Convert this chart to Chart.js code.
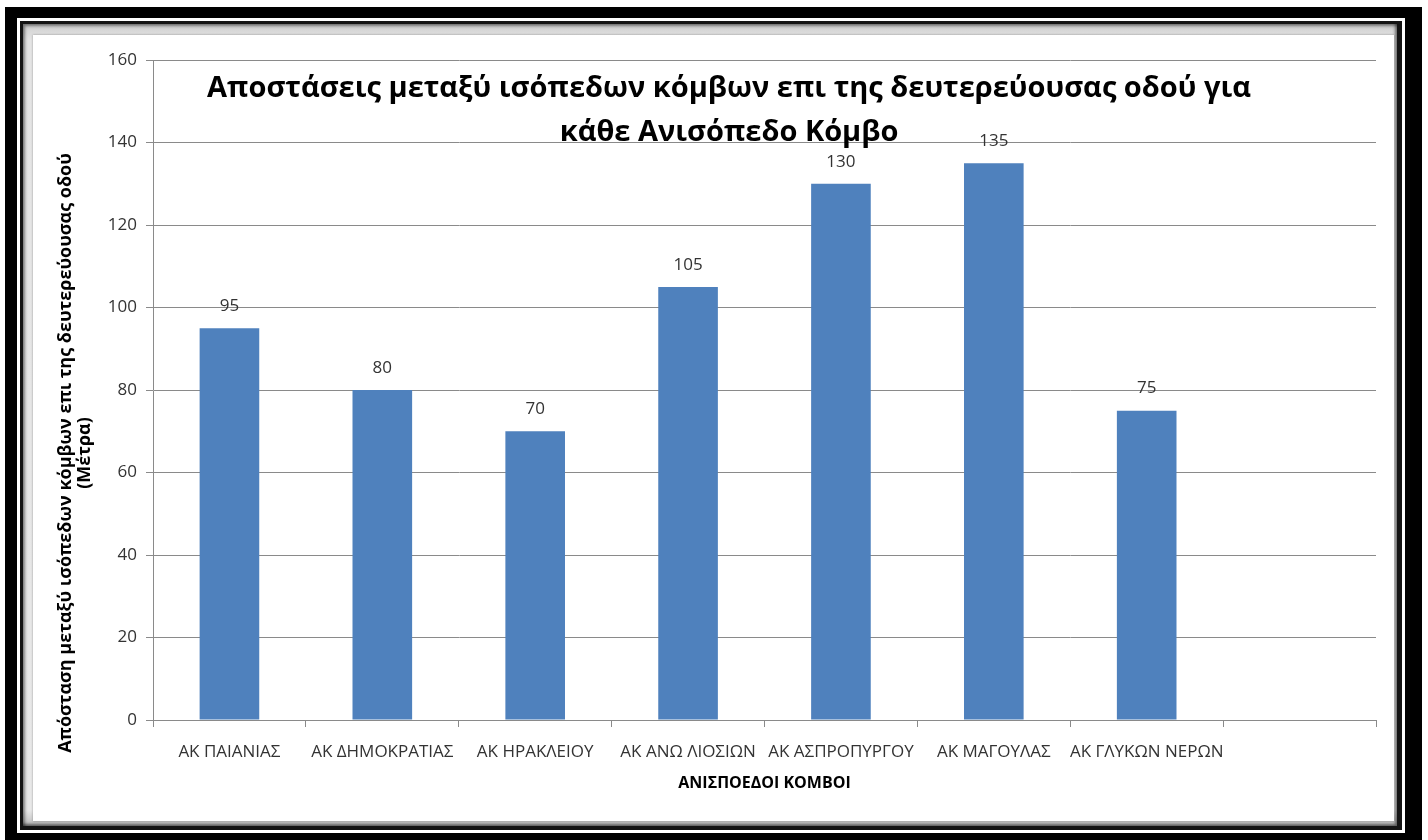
<!DOCTYPE html>
<html>
<head>
<meta charset="utf-8">
<script src="https://cdn.jsdelivr.net/npm/chart.js@4.4.1/dist/chart.umd.min.js"></script>
<style>
  html, body { margin: 0; padding: 0; background: #fff; overflow: hidden; width: 1428px; height: 840px; }
  .box { position: absolute; box-sizing: border-box; }
  #frameOuter { left: 5px; top: 7px; width: 1417px; height: 833px; background: #000; }
  #frameGap { left: 17px; top: 18px; width: 1388px; height: 815px; background: #fff; }
  #frameLine { left: 20px; top: 21px; width: 1382px; height: 809px; background: #141414; }
  #frameSheet { left: 23px; top: 24px; width: 1374px; height: 802px;
    background: linear-gradient(#cfcfcf, #e4e4e4 2%, #e8e8e8 98%, #bdbdbd);
    box-shadow: inset 2px 2px 3px rgba(0,0,0,0.45), inset -2px -2px 3px rgba(0,0,0,0.5); }
  #sheet { left: 33px; top: 35px; width: 1361px; height: 786px; background: #fff;
    box-shadow: 0 0 2px rgba(0,0,0,0.35); }
  #chart { position: absolute; left: 0; top: 0; }
</style>
</head>
<body>
<div class="box" id="frameOuter"></div>
<div class="box" id="frameGap"></div>
<div class="box" id="frameLine"></div>
<div class="box" id="frameSheet"></div>
<div class="box" id="sheet"></div>
<canvas id="chart" width="1428" height="840"></canvas>
<script>
// Interchange names and the spacing (metres) between at-grade junctions on the secondary road
const categories = ['ΑΚ ΠΑΙΑΝΙΑΣ', 'ΑΚ ΔΗΜΟΚΡΑΤΙΑΣ', 'ΑΚ ΗΡΑΚΛΕΙΟΥ', 'ΑΚ ΑΝΩ ΛΙΟΣΙΩΝ',
                    'ΑΚ ΑΣΠΡΟΠΥΡΓΟΥ', 'ΑΚ ΜΑΓΟΥΛΑΣ', 'ΑΚ ΓΛΥΚΩΝ ΝΕΡΩΝ', ''];
const distances = [95, 80, 70, 105, 130, 135, 75, null];

const titleLines = ['Αποστάσεις μεταξύ ισόπεδων κόμβων επι της δευτερεύουσας οδού για',
                    'κάθε Ανισόπεδο Κόμβο'];
const yTitleLines = ['Απόσταση μεταξύ ισόπεδων κόμβων επι της δευτερεύουσας οδού', '(Μέτρα)'];
const xTitle = 'ΑΝΙΣΠΟΕΔΟΙ ΚΟΜΒΟΙ';

const yMin = 0, yMax = 160, yStep = 20;

const FONT = "'Open Sans', 'Noto Sans', 'DejaVu Sans', sans-serif";
const GRID = '#8a8a8a';
const TEXT = '#333333';

// Value labels above each bar
const valueLabels = {
  id: 'valueLabels',
  afterDatasetsDraw(chart) {
    const ctx = chart.ctx;
    const meta = chart.getDatasetMeta(0);
    ctx.save();
    ctx.font = "17px " + FONT;
    ctx.fillStyle = TEXT;
    ctx.textAlign = 'center';
    ctx.textBaseline = 'middle';
    meta.data.forEach((bar, i) => {
      const v = chart.data.datasets[0].data[i];
      if (v === null || v === undefined) return;
      ctx.fillText(String(v), bar.x, bar.y - 22);
    });
    ctx.restore();
  }
};

// Chart heading inside the plot and the rotated value-axis caption
const headings = {
  id: 'headings',
  afterDraw(chart) {
    const ctx = chart.ctx;
    ctx.save();
    ctx.fillStyle = '#000';
    ctx.textAlign = 'center';
    ctx.textBaseline = 'alphabetic';
    ctx.font = "bold 29px " + FONT;
    ctx.fillText(titleLines[0], 729, 97);
    ctx.fillText(titleLines[1], 729, 141);

    ctx.font = "bold 18px " + FONT;
    ctx.textBaseline = 'middle';
    ctx.translate(66, 453);
    ctx.rotate(-Math.PI / 2);
    ctx.fillText(yTitleLines[0], 0, 0);
    ctx.fillText(yTitleLines[1], 0, 19);
    ctx.restore();
  }
};

new Chart(document.getElementById('chart'), {
  type: 'bar',
  data: {
    labels: categories,
    datasets: [{
      data: distances,
      backgroundColor: '#4f81bd',
      borderWidth: 0,
      barPercentage: 0.39,
      categoryPercentage: 1.0
    }]
  },
  options: {
    responsive: false,
    animation: false,
    events: [],
    layout: { padding: { top: 60, right: 52, left: 0, bottom: 0 } },
    plugins: { legend: { display: false }, tooltip: { enabled: false }, title: { display: false } },
    scales: {
      x: {
        offset: true,
        grid: { display: true, drawOnChartArea: false, drawTicks: true, tickLength: 7, color: GRID, offset: true },
        border: { display: true, color: GRID, width: 1 },
        ticks: { color: TEXT, font: { family: FONT, size: 17 }, padding: 15, maxRotation: 0, minRotation: 0, autoSkip: false },
        title: { display: true, text: xTitle, color: '#000', font: { family: FONT, size: 16, weight: 'bold' }, padding: { top: 0, bottom: 47 } },
        afterFit(scale) { scale.height = 120; }
      },
      y: {
        min: yMin, max: yMax,
        grid: { color: GRID, lineWidth: 1, drawTicks: true, tickLength: 7 },
        border: { display: true, color: GRID, width: 1 },
        ticks: { stepSize: yStep, color: TEXT, font: { family: FONT, size: 17 }, padding: 9 },
        afterFit(scale) { scale.width = 153; }
      }
    }
  },
  plugins: [valueLabels, headings]
});
</script>
</body>
</html>
